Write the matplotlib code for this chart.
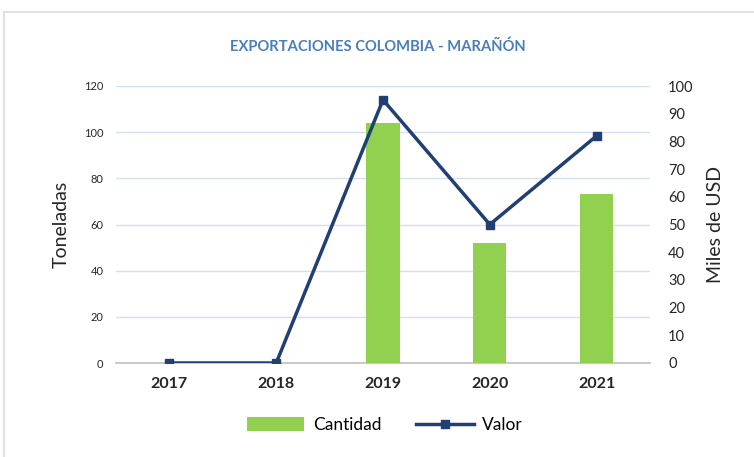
import matplotlib.pyplot as plt
import numpy as np
from matplotlib.patches import Rectangle

plt.rcParams["font.family"] = ["Lato", "DejaVu Sans"]

years = ["2017", "2018", "2019", "2020", "2021"]
cantidad = [0, 0, 104, 52, 73]
valor = [0, 0, 95, 50, 82]

BAR_GREEN = "#92D050"
NAVY = "#203F72"
GRID = "#D6DFF0"
TXT = "#262626"

fig = plt.figure(figsize=(7.54, 4.57), dpi=100)
fig.patches.append(Rectangle((4 / 754, -0.1), 1.2, (457 - 12) / 457 + 0.1,
                             transform=fig.transFigure, fill=False,
                             edgecolor="#DDE1E8", linewidth=1.5))

ax = fig.add_axes([116 / 754, 1 - 363 / 457, (650 - 116) / 754, (363 - 86) / 457])
ax2 = ax.twinx()

x = np.arange(len(years))
ax.bar(x, cantidad, width=0.31, color=BAR_GREEN, label="Cantidad", zorder=2)
ax2.plot(x, valor, color=NAVY, linewidth=2.5, marker="s", markersize=6,
         label="Valor", zorder=3)

ax.set_xlim(-0.5, len(years) - 0.5)
ax.set_ylim(0, 120)
ax2.set_ylim(0, 100)
ax.set_yticks(np.arange(0, 121, 20))
ax2.set_yticks(np.arange(0, 101, 10))

for v in range(20, 121, 20):
    ax.axhline(v, color=GRID, linewidth=1, zorder=0)
ax.axhline(0, color="#C4C4C4", linewidth=1.3, zorder=1, clip_on=False)

for a in (ax, ax2):
    for s in a.spines.values():
        s.set_visible(False)
    a.tick_params(length=0)

ax.set_xticks(x)
ax.set_xticklabels(years, fontsize=11.5, fontweight="bold", color=TXT)
ax.tick_params(axis="x", pad=10)
ax.tick_params(axis="y", labelsize=8, labelcolor=TXT, pad=9)
ax2.tick_params(axis="y", labelsize=10.5, labelcolor=TXT, pad=13)

ax.set_ylabel("Toneladas", fontsize=14, color=TXT, labelpad=10)
ax2.set_ylabel("Miles de USD", fontsize=14, color=TXT, labelpad=10)
ax2.set_zorder(ax.get_zorder() + 1)
ax2.patch.set_visible(False)

fig.text(378 / 754, 1 - 47 / 457, "EXPORTACIONES COLOMBIA - MARAÑÓN",
         ha="center", va="center", fontsize=10.6, fontweight="bold", color="#4A7EBB")

h1, l1 = ax.get_legend_handles_labels()
h2, l2 = ax2.get_legend_handles_labels()
fig.legend(h1 + h2, l1 + l2, loc="center", bbox_to_anchor=(385 / 754, 1 - 425 / 457),
           ncol=2, frameon=False, fontsize=12.5, handlelength=3.3, columnspacing=2.0,
           handleheight=0.8, handletextpad=0.5)

fig.savefig("out.png", dpi=100)
